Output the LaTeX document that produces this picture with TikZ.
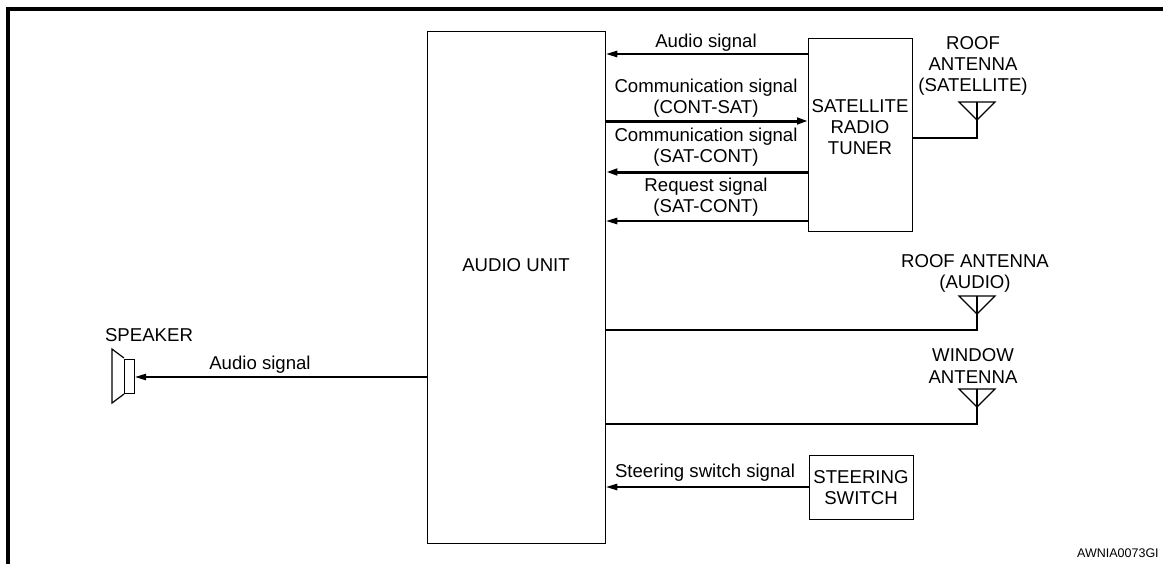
\documentclass[tikz,border=0pt]{standalone}
\usepackage{fontspec}
\setmainfont{Liberation Sans}
\usetikzlibrary{arrows.meta}
\begin{document}
\begin{tikzpicture}[x=1pt,y=-1pt,
  every node/.style={font=\fontsize{18.6}{21}\selectfont, text=black, inner sep=0pt},
  box/.style={draw, line width=1.3pt, anchor=north west},
  lbl/.style={align=center},
  thin/.style={line width=1.2pt},
  thick/.style={line width=3pt},
  arr/.style={-{Triangle[length=11pt,width=6.5pt]}},
  frame/.style={line width=4pt, line join=miter}
]
\useasboundingbox (0,0) rectangle (1163,563);
% frame
\coordinate (fbl) at (8,575);
\coordinate (ftl) at (8,9);
\coordinate (ftr) at (1175,9);
\draw[frame] (fbl) -- (ftl) -- (ftr);

% boxes
\node[box, minimum width=178pt, minimum height=512pt] (au) at (427,31) {};
\node at (516,265) (aut) {AUDIO UNIT};
\node[box, minimum width=104pt, minimum height=193pt] (sat) at (808,38) {};
\node[lbl] (satt) at (860,127.5) {SATELLITE\\RADIO\\TUNER};
\node[box, minimum width=104pt, minimum height=64pt] (sw) at (809,455) {};
\node[lbl] (swt) at (861,488) {STEERING\\SWITCH};

% row coordinates
\coordinate (y1) at (0,54);
\coordinate (y2) at (0,121);
\coordinate (y3) at (0,172);
\coordinate (y4) at (0,221);
\coordinate (y5) at (0,330);
\coordinate (y6) at (0,424);
\coordinate (y7) at (0,487);
\coordinate (y8) at (0,377);
\coordinate (ysa) at (0,138);

% satellite connectors
\draw[thin,arr] (sat.west |- y1) -- (au.east |- y1);
\draw[thick,arr] (au.east |- y2) -- (sat.west |- y2);
\draw[thick,arr] (sat.west |- y3) -- (au.east |- y3);
\draw[thin,arr] (sat.west |- y4) -- (au.east |- y4);
\node (l1) at (706,43) {Audio signal};
\node[lbl] (l2) at (706,98) {Communication signal\\(CONT-SAT)};
\node[lbl] (l3) at (706,147.5) {Communication signal\\(SAT-CONT)};
\node[lbl] (l4) at (706,197.5) {Request signal\\(SAT-CONT)};

% antennas
\coordinate (a1) at (977,102);
\coordinate (a2) at (977,296);
\coordinate (a3) at (977,389);
\draw[thin] (sat.east |- ysa) -| (a1);
\draw[thin] (au.east |- y5) -| (a2);
\draw[thin] (au.east |- y6) -| (a3);
\foreach \a in {a1,a2,a3}{
  \draw[thin, line join=miter] ([xshift=-18pt]\a) -- ([xshift=18pt]\a) -- ([yshift=-18pt]\a) -- cycle;
}
\node[lbl] (n1) at (973,66) {ROOF\\ANTENNA\\(SATELLITE)};
\node[lbl] (n2) at (975,273) {ROOF ANTENNA\\(AUDIO)};
\node[lbl] (n3) at (973,366) {WINDOW\\ANTENNA};

% speaker
\node[box, line width=1.2pt, minimum width=10pt, minimum height=34pt] (spk) at (124,359) {};
\coordinate (c1) at (124,358);
\coordinate (c2) at (112,349);
\coordinate (c3) at (112,403);
\coordinate (c4) at (124,394);
\draw[thin, line join=miter] (c1) -- (c2) -- (c3) -- (c4);
\draw[thin,arr] (au.west |- y8) -- (spk.east |- y8);
\node (sp) at (149,335) {SPEAKER};
\node (l5) at (260,365) {Audio signal};

% steering
\draw[thin,arr] (sw.west |- y7) -- (au.east |- y7);
\node (l6) at (705,473) {Steering switch signal};

\node[anchor=west, font=\fontsize{12.5}{14}\selectfont] (id) at (1077,553) {AWNIA0073GI};
\end{tikzpicture}
\end{document}
